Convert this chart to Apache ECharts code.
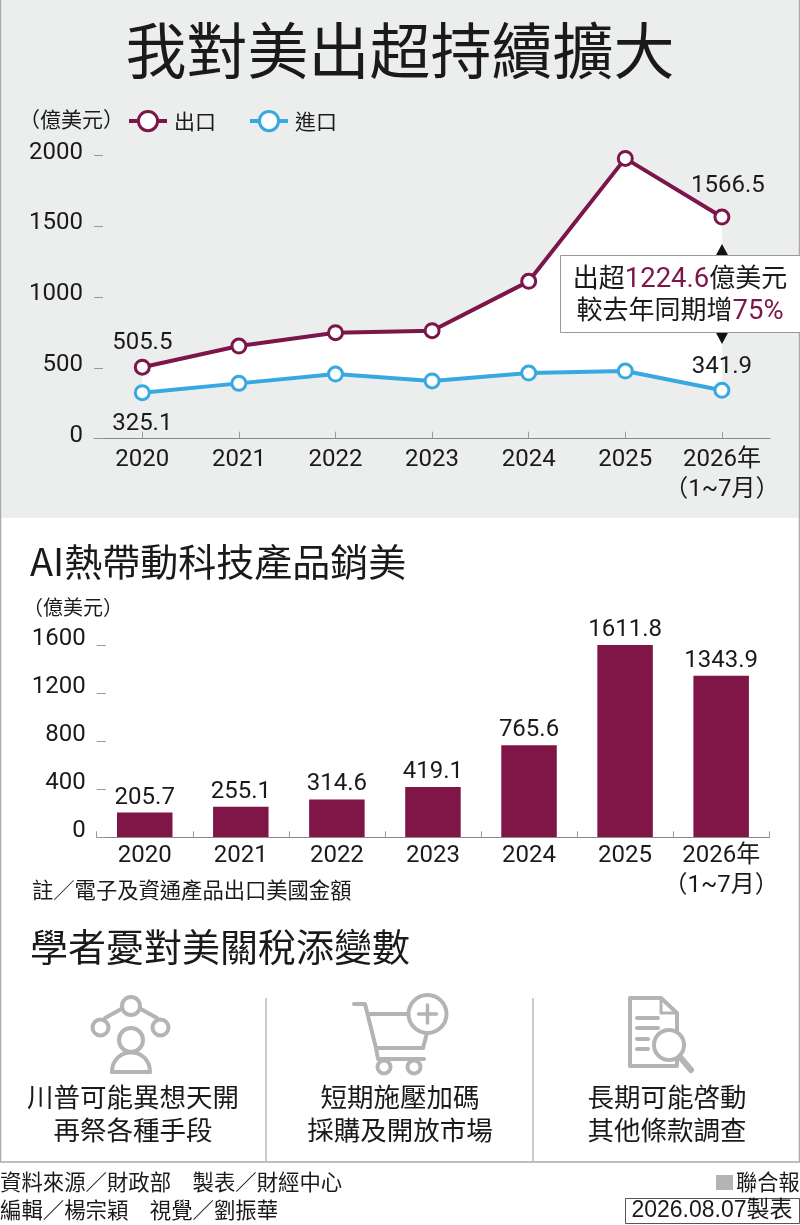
<!DOCTYPE html>
<html><head><meta charset="utf-8">
<style>html,body{margin:0;padding:0;background:#fff}#c{width:800px;height:1225px}</style>
<script src="https://cdn.jsdelivr.net/npm/echarts@6/dist/echarts.min.js"></script>
</head><body><div id="c"></div>
<script>
const years = ['2020','2021','2022','2023','2024','2025','2026年\n（1~7月）'];
const exportsUS = [505.5,655,749,763,1112,1981,1566.5];
const importsUS = [325.1,391,457,408,464,478,341.9];
const techExports = [205.7,255.1,314.6,419.1,765.6,1611.8,1343.9];
const tradeTicks = {min:0,max:2000,interval:500};
const techTicks = {min:0,max:1600,interval:400};
const seriesNames = ['出口','進口'];

const FONT = "Roboto, 'Noto Sans CJK TC', sans-serif";
const CJK = "'Noto Sans CJK TC', sans-serif";
const WINE = '#7c1549', BLUE = '#38a9e0', BG = '#eceeee', INK = '#1a1a1a', TICK = '#999', ICON = '#b4b4b4';
const D = 24;

function T(text,x,y,size,align,opt){
  return Object.assign({type:'text',z:50,style:Object.assign({text:text,x:x,y:y,fontSize:size,fontFamily:CJK,
    fill:INK,align:align||'left',verticalAlign:'middle'},opt||{})});
}
function S(type,shape,extra){
  return Object.assign({type:type,z:40,shape:shape,style:{stroke:ICON,lineWidth:4,fill:'none',lineCap:'round',lineJoin:'round'}},extra||{});
}
function ring(cx,cy,r,w){return {type:'circle',z:41,shape:{cx,cy,r},style:{stroke:ICON,lineWidth:w||4,fill:'#fff'}};}
function L(x1,y1,x2,y2,w,z){return {type:'line',z:z||40,shape:{x1,y1,x2,y2},style:{stroke:ICON,lineWidth:w||4,lineCap:'round'}};}

const graphics = [
  {type:'rect',z:-5,shape:{x:0,y:0,width:800,height:518},style:{fill:BG}},
  {type:'line',z:-4,shape:{x1:0.5,y1:0,x2:0.5,y2:1162},style:{stroke:'#aaa',lineWidth:1.5}},
  {type:'line',z:-4,shape:{x1:799.5,y1:0,x2:799.5,y2:1162},style:{stroke:'#aaa',lineWidth:1.5}},
  {type:'line',z:-4,shape:{x1:0,y1:1162,x2:800,y2:1162},style:{stroke:'#aaa',lineWidth:1.5}},
  {type:'line',z:-4,shape:{x1:266,y1:998,x2:266,y2:1162},style:{stroke:'#bbb',lineWidth:1.5}},
  {type:'line',z:-4,shape:{x1:533,y1:998,x2:533,y2:1162},style:{stroke:'#bbb',lineWidth:1.5}},

  T('我對美出超持續擴大',400,51,61,'center'),
  T('（億美元）',19,119,21),
  T('AI熱帶動科技產品銷美',30,562,38),
  T('（億美元）',23,607,20),
  T('註／電子及資通產品出口美國金額',32,890,21.3),
  T('學者憂對美關稅添變數',30,947,38),

  // annotation
  {type:'polygon',z:30,shape:{points:[[722,244],[715,257],[729,257]]},style:{fill:'#111'}},
  {type:'polygon',z:30,shape:{points:[[722,344],[715,331],[729,331]]},style:{fill:'#111'}},
  {type:'rect',z:31,shape:{x:560.5,y:255.5,width:241,height:77},style:{fill:'#fff',stroke:'#999',lineWidth:1}},
  {type:'text',z:50,style:{text:'出超{n|1224.6}億美元\n較去年同期增{n|75%}',x:680,y:296,align:'center',verticalAlign:'middle',
    fontSize:26,lineHeight:32,fontFamily:FONT,fill:INK,
    rich:{n:{fill:WINE,fontSize:27.5,lineHeight:32,fontFamily:FONT}}}},

  // icon 1: people network
  L(105,1018,123,1008), L(157,1018,139,1008),
  ring(131,1006,9), ring(100.5,1027.5,8), ring(160.5,1027.5,8),
  S('bezierCurve',{x1:112,y1:1072,cpx1:112,cpy1:1046,cpx2:150,cpy2:1046,x2:150,y2:1072}),
  L(112,1072,150,1072),
  ring(131,1040,12),

  // icon 2: cart
  {type:'polyline',z:40,shape:{points:[[354,1004],[365,1004],[376,1048],[378,1059],[424,1059]]},style:{stroke:ICON,lineWidth:4,fill:'none',lineCap:'round',lineJoin:'round'}},
  L(368,1014,410,1014), L(376,1048,423,1048), L(427,1033,423,1048),
  ring(427.5,1014,19), L(418.5,1014,436.5,1014,3.5,42), L(427.5,1005,427.5,1023,3.5,42),
  ring(384,1067,6.5), ring(414,1067,6.5),

  // icon 3: document with magnifier
  {type:'polygon',z:40,shape:{points:[[630,998],[661,998],[677,1013],[677,1066],[630,1066]]},style:{stroke:ICON,lineWidth:4,fill:'#fff',lineJoin:'round'}},
  {type:'polyline',z:40,shape:{points:[[661,998],[661,1013],[677,1013]]},style:{stroke:ICON,lineWidth:3,fill:'none',lineJoin:'round'}},
  L(637,1018,658,1018), L(637,1028,658,1028), L(637,1039,648,1039), L(637,1049,648,1049),
  L(680,1057,691,1070,6),
  ring(669,1045,15),

  T('川普可能異想天開',133,1097,26.5,'center'),
  T('再祭各種手段',133,1130,26.5,'center'),
  T('短期施壓加碼',400,1097,26.5,'center'),
  T('採購及開放市場',400,1130,26.5,'center'),
  T('長期可能啓動',667,1097,26.5,'center'),
  T('其他條款調查',667,1130,26.5,'center'),

  T('資料來源／財政部　製表／財經中心',0,1182,21.4),
  T('編輯／楊宗穎　視覺／劉振華',0,1210,21.4),
  {type:'rect',z:40,shape:{x:716,y:1175,width:17,height:15},style:{fill:ICON}},
  T('聯合報',736,1182,21.2),
  {type:'rect',z:40,shape:{x:625.5,y:1198.5,width:174,height:25},style:{fill:'#fff',stroke:'#555',lineWidth:1}},
  T('2026.08.07製表',712,1211,23,'center',{fontFamily:"'Liberation Sans','Noto Sans CJK TC',sans-serif"})
];

function labelled(values,specs){
  return values.map((v,i)=>specs[i]?{value:v,label:Object.assign({show:true,fontFamily:FONT,fontSize:D,color:INK},specs[i])}:v);
}
function xAxis(gridIndex,align,tickLen,labelMargin){
  return {type:'category',gridIndex,data:years,z:5,
    axisLine:{lineStyle:{color:'#888',width:1}},
    axisTick:{show:true,inside:true,alignWithLabel:align,length:tickLen,lineStyle:{color:TICK}},
    axisLabel:{interval:0,margin:labelMargin,fontFamily:FONT,fontSize:D,color:INK,lineHeight:30,verticalAlign:'top'}};
}
function yAxis(gridIndex,ticks,lift){
  return Object.assign({type:'value',gridIndex,z:5,splitLine:{show:false},axisLine:{show:false},
    axisTick:{show:true,inside:true,length:9,lineStyle:{color:TICK}},
    axisLabel:{margin:11,fontFamily:FONT,fontSize:D,color:INK,verticalAlign:'bottom',lineHeight:lift,formatter:v=>String(v)}},ticks);
}

const option = {
  animation:false,
  backgroundColor:'#fff',
  textStyle:{fontFamily:FONT},
  graphic:{elements:graphics},
  legend:{left:127,top:110,padding:0,itemWidth:38,itemHeight:24,itemGap:32,data:seriesNames,
    lineStyle:{width:4},itemStyle:{borderWidth:3},
    textStyle:{fontFamily:CJK,fontSize:21,color:INK,padding:[0,0,0,2]}},
  grid:[
    {left:94,top:155.7,width:676.2,height:283},
    {left:96.7,top:645,width:672.5,height:192.3}
  ],
  xAxis:[xAxis(0,true,7,6),xAxis(1,false,6,4)],
  yAxis:[yAxis(0,tradeTicks,6),yAxis(1,techTicks,12)],
  series:[
    {name:seriesNames[0],type:'line',xAxisIndex:0,yAxisIndex:0,z:2,
     data:labelled(exportsUS,{0:{position:'top',distance:4},6:{position:'top',distance:11,offset:[6,0]}}),
     symbol:'circle',symbolSize:14,showSymbol:true,
     lineStyle:{color:WINE,width:4},
     itemStyle:{color:'#fff',borderColor:WINE,borderWidth:3},
     areaStyle:{color:'#fff',opacity:1}},
    {name:seriesNames[1],type:'line',xAxisIndex:0,yAxisIndex:0,z:3,
     data:labelled(importsUS,{0:{position:'bottom',distance:11},6:{position:'top',distance:3}}),
     symbol:'circle',symbolSize:14,showSymbol:true,
     lineStyle:{color:BLUE,width:4},
     itemStyle:{color:'#fff',borderColor:BLUE,borderWidth:3},
     areaStyle:{color:BG,opacity:1}},
    {name:'電子及資通產品',type:'bar',xAxisIndex:1,yAxisIndex:1,z:3,data:techExports,barWidth:55.5,
     itemStyle:{color:'#801548'},
     label:{show:true,position:'top',distance:3,fontFamily:FONT,fontSize:D,color:INK}}
  ]
};
const chart = echarts.init(document.getElementById('c'),null,{renderer:'canvas',width:800,height:1225});
chart.setOption(option);
</script></body></html>
